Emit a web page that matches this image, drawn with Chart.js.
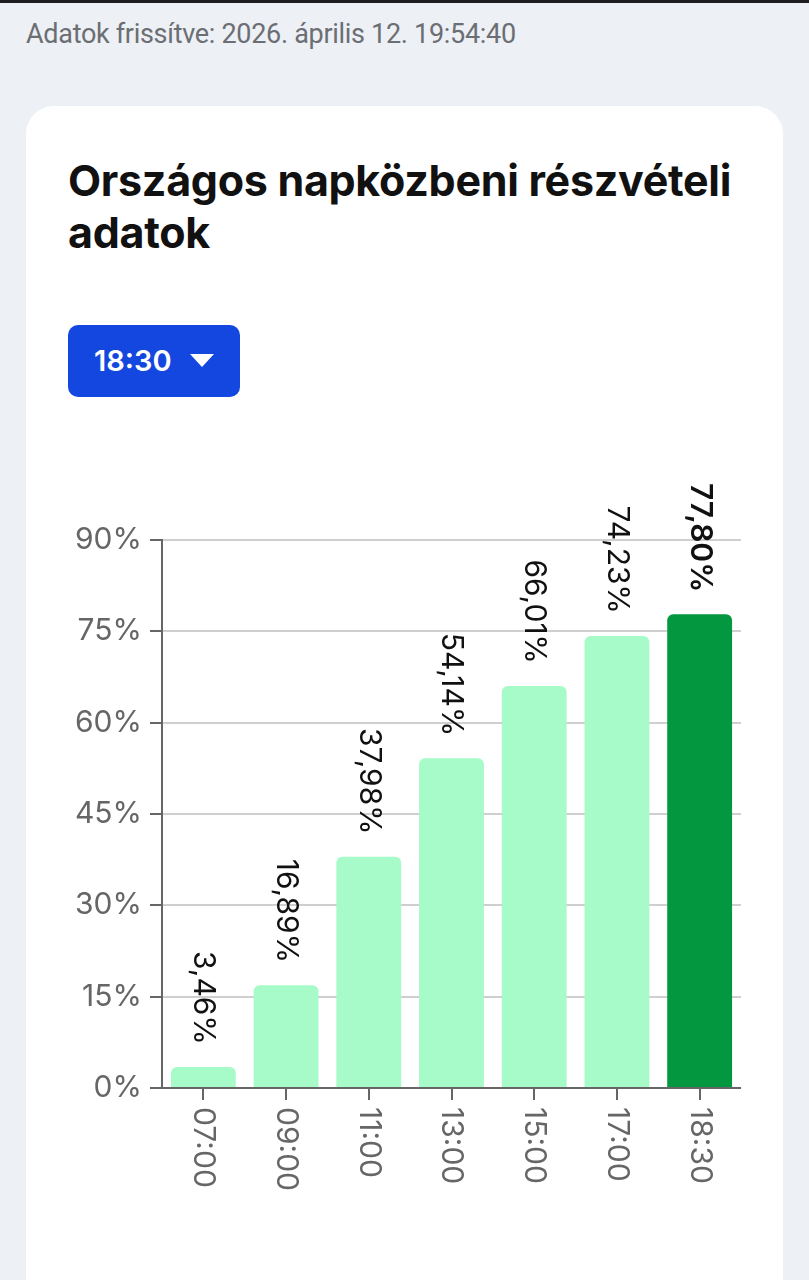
<!DOCTYPE html>
<html lang="hu">
<head>
<meta charset="utf-8">
<title>Országos napközbeni részvételi adatok</title>
<script src="https://cdn.jsdelivr.net/npm/chart.js@4.4.1/dist/chart.umd.min.js"></script>
<style>
  html, body { margin: 0; padding: 0; }
  body {
    width: 809px; height: 1280px; overflow: hidden;
    background: #edf0f5; position: relative;
    font-family: Inter, Roboto, sans-serif;
  }
  .topbar { position: absolute; left: 0; top: 0; width: 809px; height: 3px; background: #1d1d1f; }
  .updated {
    position: absolute; left: 26px; top: 18px;
    font-family: Roboto, sans-serif; font-size: 27px; color: #6b6e73;
    letter-spacing: -0.3px; white-space: nowrap;
  }
  .card {
    position: absolute; left: 26px; top: 106px; width: 757px; height: 1240px;
    background: #fff; border-radius: 28px;
  }
  h1 {
    position: absolute; left: 68px; top: 154px; margin: 0; width: 690px;
    font-size: 43px; line-height: 52px; font-weight: 700; color: #111;
    letter-spacing: -0.3px;
  }
  .picker {
    position: absolute; left: 68px; top: 325px; width: 172px; height: 72px;
    background: #1447e0; border-radius: 10px; color: #fff;
    font-size: 29px; font-weight: 600;
  }
  .picker span { position: absolute; left: 26px; top: 18px; }
  .picker i {
    position: absolute; left: 122px; top: 29px; width: 0; height: 0;
    border-left: 12px solid transparent; border-right: 12px solid transparent;
    border-top: 13px solid #fff;
  }
  .chart-box { position: absolute; left: 68px; top: 470px; width: 673px; height: 730px; }
</style>
</head>
<body>
<div class="topbar"></div>
<div class="updated">Adatok frissítve: 2026. április 12. 19:54:40</div>
<div class="card"></div>
<h1>Országos napközbeni részvételi adatok</h1>
<div class="picker"><span>18:30</span><i></i></div>
<div class="chart-box"><canvas id="turnoutChart" width="673" height="730"></canvas></div>

<script>
// chart data
const times = ['07:00', '09:00', '11:00', '13:00', '15:00', '17:00', '18:30'];
const turnout = [3.46, 16.89, 37.98, 54.14, 66.01, 74.23, 77.80];
const selectedTime = '18:30';
const yTicks = [0, 15, 30, 45, 60, 75, 90];

const lightGreen = '#a7fbc8';
const darkGreen = '#03973f';
const axisGray = '#666';

const fmt = v => v.toFixed(2).replace('.', ',') + '%';

// value labels above the bars, rotated clockwise
const valueLabels = {
    id: 'valueLabels',
    afterDatasetsDraw(chart) {
        const ctx = chart.ctx;
        const meta = chart.getDatasetMeta(0);
        meta.data.forEach((bar, i) => {
            ctx.save();
            ctx.translate(bar.x, bar.y - 22);
            ctx.rotate(Math.PI / 2);
            ctx.textAlign = 'right';
            ctx.textBaseline = 'middle';
            ctx.fillStyle = '#111';
            const bold = times[i] === selectedTime;
            ctx.font = (bold ? '600 ' : '400 ') + '30px Inter, Roboto, sans-serif';
            ctx.fillText(fmt(turnout[i]), 0, 0);
            ctx.restore();
        });
    }
};

// category labels under the x axis, also rotated clockwise
const timeLabels = {
    id: 'timeLabels',
    afterDraw(chart) {
        const ctx = chart.ctx;
        const xScale = chart.scales.x;
        times.forEach((t, i) => {
            ctx.save();
            ctx.translate(xScale.getPixelForTick(i), xScale.top + 12 + 7);
            ctx.rotate(Math.PI / 2);
            ctx.textAlign = 'left';
            ctx.textBaseline = 'middle';
            ctx.fillStyle = axisGray;
            ctx.font = '400 30px Inter, Roboto, sans-serif';
            ctx.fillText(t, 0, 0);
            ctx.restore();
        });
    }
};

const ctx = document.getElementById('turnoutChart').getContext('2d');
new Chart(ctx, {
    type: 'bar',
    data: {
        labels: times,
        datasets: [{
            data: turnout,
            backgroundColor: times.map(t => t === selectedTime ? darkGreen : lightGreen),
            borderRadius: 6,
            borderSkipped: 'start',
            categoryPercentage: 0.8,
            barPercentage: 0.98
        }]
    },
    options: {
        responsive: false,
        animation: false,
        layout: { padding: { top: 70, bottom: 100, left: 0, right: 0 } },
        plugins: {
            legend: { display: false },
            tooltip: { enabled: false }
        },
        scales: {
            x: {
                ticks: { display: false },
                grid: { offset: false, drawOnChartArea: false, drawTicks: true, tickLength: 12, tickColor: axisGray, lineWidth: 2 },
                border: { color: axisGray, width: 2 }
            },
            y: {
                min: 0,
                max: 90,
                afterFit(scale) { scale.width = 94; },
                afterBuildTicks(scale) { scale.ticks = yTicks.map(v => ({ value: v })); },
                ticks: {
                    padding: 8,
                    color: axisGray,
                    font: { family: 'Inter, Roboto, sans-serif', size: 30, weight: '400' },
                    callback: v => v + '%'
                },
                grid: { color: '#cfcfcf', lineWidth: 2, tickLength: 12, tickColor: axisGray },
                border: { color: axisGray, width: 2 }
            }
        }
    },
    plugins: [valueLabels, timeLabels]
});
</script>
</body>
</html>
